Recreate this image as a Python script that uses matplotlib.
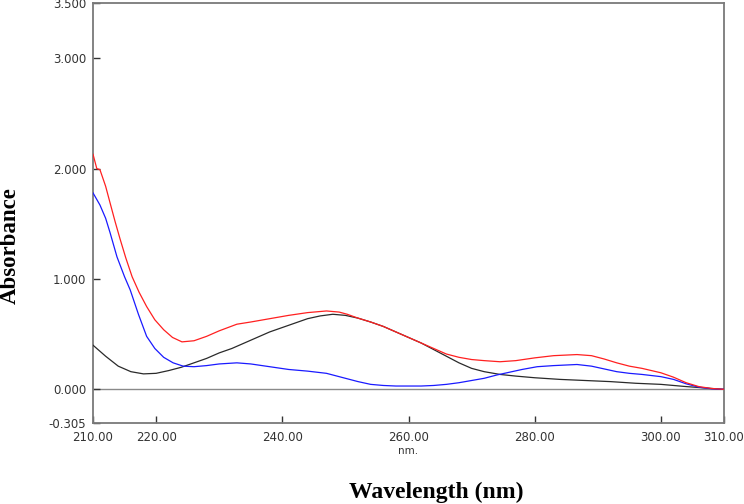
import matplotlib
matplotlib.use("Agg")
import matplotlib.pyplot as plt

# Wavelength grid (nm) and absorbance readings for each spectrum
wl_red = [210, 210.6, 211.1, 212.0, 212.7, 213.5, 214.3, 215.2, 216.2, 217.3, 218.5, 219.8,
          221.2, 222.6, 224.1, 226, 228, 230, 232.8, 235, 238, 241, 244, 247, 249, 250.3,
          252, 254, 256, 258, 260, 262, 264, 266, 268, 270, 272, 274.5, 277, 280, 283,
          286.7, 289, 291, 293, 295, 297, 300, 302, 304, 306, 308, 310]
red = [2.13, 2.00, 1.99, 1.84, 1.69, 1.52, 1.36, 1.19, 1.02, 0.88, 0.75, 0.63,
       0.54, 0.47, 0.43, 0.44, 0.48, 0.53, 0.59, 0.61, 0.64, 0.67, 0.695, 0.71, 0.70, 0.68,
       0.645, 0.61, 0.57, 0.52, 0.47, 0.42, 0.37, 0.32, 0.29, 0.27, 0.26, 0.25, 0.26, 0.285, 0.305,
       0.315, 0.305, 0.275, 0.24, 0.21, 0.19, 0.15, 0.11, 0.06, 0.025, 0.008, 0.0]

wl_blue = [210, 211.1, 212.0, 212.7, 213.8, 215.0, 215.9, 217.2, 218.5, 219.8, 221.2, 222.7,
           224.3, 226, 228, 230, 232.8, 235, 238, 241, 244, 247, 250, 252, 254, 256, 258,
           260, 262, 264, 266, 268, 270, 272, 274, 276, 278, 280.4, 283, 286.7, 289, 291,
           293, 295, 297, 300, 302, 304, 306, 308, 310]
blue = [1.78, 1.67, 1.55, 1.42, 1.20, 1.02, 0.90, 0.68, 0.48, 0.37, 0.29, 0.24,
        0.21, 0.205, 0.215, 0.23, 0.24, 0.23, 0.205, 0.18, 0.165, 0.145, 0.10, 0.07, 0.045, 0.035, 0.03,
        0.03, 0.03, 0.035, 0.045, 0.06, 0.08, 0.10, 0.13, 0.155, 0.18, 0.205, 0.215, 0.225, 0.21, 0.185,
        0.16, 0.145, 0.135, 0.115, 0.09, 0.05, 0.02, 0.005, 0.0]

wl_black = [210, 212, 214, 216, 218, 220, 222, 224, 226, 228, 230, 232, 234, 236, 238, 240,
            242, 244, 246, 248, 250, 252, 254, 256, 258, 260, 262, 264, 266, 268, 270, 272,
            274.5, 277, 280, 284, 288, 292, 296, 300, 304, 308, 310]
black = [0.40, 0.30, 0.21, 0.16, 0.14, 0.145, 0.17, 0.20, 0.24, 0.28, 0.33, 0.37, 0.42, 0.47, 0.52, 0.56,
         0.60, 0.64, 0.665, 0.68, 0.67, 0.645, 0.61, 0.57, 0.52, 0.47, 0.42, 0.36, 0.30, 0.24, 0.19, 0.16,
         0.135, 0.12, 0.105, 0.09, 0.08, 0.07, 0.055, 0.045, 0.025, 0.008, 0.0]

x_ticks = [210, 220, 240, 260, 280, 300, 310]
x_tick_labels = ["210.00", "220.00", "240.00", "260.00", "280.00", "300.00", "310.00"]
y_ticks = [-0.305, 0.0, 1.0, 2.0, 3.0, 3.5]
y_tick_labels = ["-0.305", "0.000", "1.000", "2.000", "3.000", "3.500"]

fig = plt.figure(figsize=(7.44, 5.04), dpi=100)
ax = fig.add_axes([93/744, 1 - 423/504, (724 - 93)/744, (423 - 3)/504])

ax.axhline(0, color="#8a8a8a", lw=1.0, zorder=1)
ax.plot(wl_black, black, color="#2a2a2a", lw=0.9, zorder=3)
ax.plot(wl_blue, blue, color="#1a1aff", lw=0.9, zorder=4)
ax.plot(wl_red, red, color="#ff2020", lw=0.9, zorder=5)

ax.set_xlim(210, 310)
ax.set_ylim(-0.305, 3.5)

ax.set_xticks(x_ticks)
ax.set_xticklabels(x_tick_labels, fontfamily="DejaVu Sans", fontsize=8.5, color="#333333")
ax.set_yticks(y_ticks)
ax.set_yticklabels(y_tick_labels, fontfamily="DejaVu Sans", fontsize=8.5, color="#333333")
ax.tick_params(axis="both", direction="in", length=5, width=1, color="#333333")
ax.tick_params(axis="x", pad=6)
ax.tick_params(axis="y", pad=5)

for s in ax.spines.values():
    s.set_color("#7a7a7a")
    s.set_linewidth(1.3)

fig.text(408/744, 1 - 451/504, "nm.", ha="center", va="center",
         fontfamily="DejaVu Sans", fontsize=7.5, color="#333333")
fig.text(436/744, 1 - 492/504, "Wavelength (nm)", ha="center", va="center",
         fontfamily="Liberation Serif", fontweight="bold", fontsize=17)
fig.text(10/744, 1 - 246/504, "Absorbance", ha="center", va="center", rotation=90,
         fontfamily="Liberation Serif", fontweight="bold", fontsize=16.5)

fig.savefig("out.png", dpi=100)
